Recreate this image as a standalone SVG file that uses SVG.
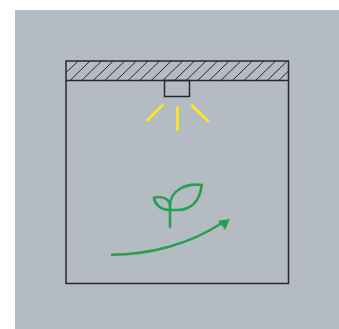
<svg xmlns="http://www.w3.org/2000/svg" width="339" height="329" viewBox="0 0 339 329">
<style>
.edge{fill:none;stroke:#26282e;stroke-width:1.5}
.hatch{fill:none;stroke:#26282e;stroke-width:1}
.light{fill:none;stroke:#ffe81c;stroke-width:2.6;stroke-linecap:butt}
.green{fill:none;stroke:#2a9d50;stroke-width:2.6}
</style>
<rect x="15" y="10" width="324" height="319" fill="#b4bbc3"/>
<g id="room">
<rect class="edge" x="66" y="61" width="222.500" height="222.500"/>
<line class="edge" x1="66" y1="80.500" x2="288.500" y2="80.500"/>
</g>
<g id="ceiling-hatch">
<path class="hatch" d="M66 72.500L78.300 61M70 80.500L90 61M81.600 80.500L101.600 61M93.200 80.500L113.200 61M104.800 80.500L124.800 61M116.400 80.500L136.400 61M128 80.500L148 61M139.600 80.500L159.600 61M151.200 80.500L171.200 61M162.800 80.500L182.800 61M174.400 80.500L194.400 61M186 80.500L206 61M197.600 80.500L217.600 61M209.200 80.500L229.200 61M220.800 80.500L240.800 61M232.400 80.500L252.400 61M244 80.500L264 61M255.600 80.500L275.600 61M267.200 80.500L287.200 61M278.800 80.500L288.500 71"/>
</g>
<g id="lamp">
<rect class="edge" x="164.500" y="80.500" width="25" height="16"/>
</g>
<g id="light-rays">
<line class="light" x1="146.500" y1="121" x2="163" y2="104.500"/>
<line class="light" x1="177.500" y1="106.500" x2="177.500" y2="131"/>
<line class="light" x1="191.500" y1="105" x2="208.500" y2="121.500"/>
</g>
<g id="plant">
<path class="green" d="M170 227.700V206C170 190 186 183 201.700 185C200 200 192 210.500 176 210H170C160 210 155 204 154 197.700C162 195.500 170 199 170 206"/>
</g>
<g id="connectors">
<path class="green" d="M111 254.700C150 254.700 190 244 222 223"/>
<path d="M229.800 219L218 220.800L225.200 229.800Z" fill="#2a9d50"/>
</g>
</svg>
